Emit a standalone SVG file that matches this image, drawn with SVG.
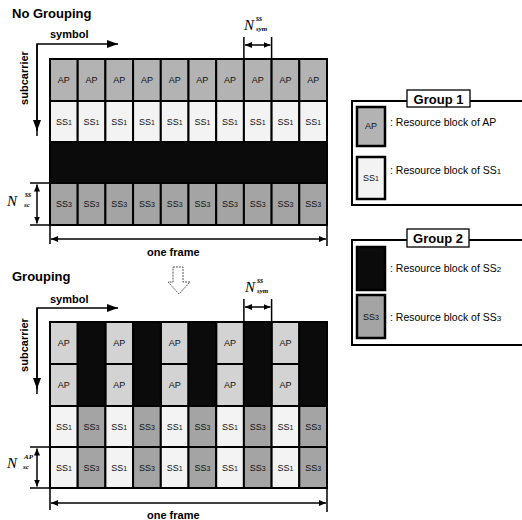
<svg xmlns="http://www.w3.org/2000/svg" width="522" height="520" viewBox="0 0 522 520">
<style>
.c{stroke:#000;stroke-width:2}
.ap1{fill:#b3b3b3}.ap2{fill:#d3d3d3}.s1{fill:#f3f3f3}.s2{fill:#0b0b0b}.s3{fill:#a4a4a4}
.t{font-family:"Liberation Sans",Arial,sans-serif;font-size:9px;text-anchor:middle;fill:#111}
.b{font-family:"Liberation Sans",Arial,sans-serif;font-weight:bold;fill:#000}
.lg{font-family:"Liberation Sans",Arial,sans-serif;font-size:10.5px;fill:#000}
.n{font-family:"Liberation Serif","Times New Roman",serif;font-style:italic;fill:#000}
.ln{stroke:#000;stroke-width:1.5;fill:none}
</style>
<defs>
<marker id="big" markerUnits="userSpaceOnUse" markerWidth="12" markerHeight="10" refX="11" refY="5" orient="auto"><path d="M0,1 L11,5 L0,9 Z" fill="#000"/></marker>
<marker id="sm" markerUnits="userSpaceOnUse" markerWidth="8" markerHeight="6" refX="7" refY="3" orient="auto-start-reverse"><path d="M0,0 L7,3 L0,6 Z" fill="#000"/></marker>
</defs>

<text class="b" x="12" y="18" font-size="13">No Grouping</text>
<text class="b" x="12" y="281" font-size="13">Grouping</text>

<g id="grid-nogrouping">
<g class="c">
<rect class="ap1" x="50" y="59" width="27.7" height="42"/><rect class="ap1" x="77.7" y="59" width="27.7" height="42"/><rect class="ap1" x="105.4" y="59" width="27.7" height="42"/><rect class="ap1" x="133.1" y="59" width="27.7" height="42"/><rect class="ap1" x="160.8" y="59" width="27.7" height="42"/><rect class="ap1" x="188.5" y="59" width="27.7" height="42"/><rect class="ap1" x="216.2" y="59" width="27.7" height="42"/><rect class="ap1" x="243.9" y="59" width="27.7" height="42"/><rect class="ap1" x="271.6" y="59" width="27.7" height="42"/><rect class="ap1" x="299.3" y="59" width="27.7" height="42"/>
<rect class="s1" x="50" y="101" width="27.7" height="41"/><rect class="s1" x="77.7" y="101" width="27.7" height="41"/><rect class="s1" x="105.4" y="101" width="27.7" height="41"/><rect class="s1" x="133.1" y="101" width="27.7" height="41"/><rect class="s1" x="160.8" y="101" width="27.7" height="41"/><rect class="s1" x="188.5" y="101" width="27.7" height="41"/><rect class="s1" x="216.2" y="101" width="27.7" height="41"/><rect class="s1" x="243.9" y="101" width="27.7" height="41"/><rect class="s1" x="271.6" y="101" width="27.7" height="41"/><rect class="s1" x="299.3" y="101" width="27.7" height="41"/>
<rect class="s2" x="50" y="142" width="277" height="41"/>
<rect class="s3" x="50" y="183" width="27.7" height="42"/><rect class="s3" x="77.7" y="183" width="27.7" height="42"/><rect class="s3" x="105.4" y="183" width="27.7" height="42"/><rect class="s3" x="133.1" y="183" width="27.7" height="42"/><rect class="s3" x="160.8" y="183" width="27.7" height="42"/><rect class="s3" x="188.5" y="183" width="27.7" height="42"/><rect class="s3" x="216.2" y="183" width="27.7" height="42"/><rect class="s3" x="243.9" y="183" width="27.7" height="42"/><rect class="s3" x="271.6" y="183" width="27.7" height="42"/><rect class="s3" x="299.3" y="183" width="27.7" height="42"/>
</g>
<g class="t">
<text x="63.85" y="83">AP</text><text x="91.55" y="83">AP</text><text x="119.25" y="83">AP</text><text x="146.95" y="83">AP</text><text x="174.65" y="83">AP</text><text x="202.35" y="83">AP</text><text x="230.05" y="83">AP</text><text x="257.75" y="83">AP</text><text x="285.45" y="83">AP</text><text x="313.15" y="83">AP</text>
<text x="63.85" y="125">SS<tspan font-size="7">1</tspan></text><text x="91.55" y="125">SS<tspan font-size="7">1</tspan></text><text x="119.25" y="125">SS<tspan font-size="7">1</tspan></text><text x="146.95" y="125">SS<tspan font-size="7">1</tspan></text><text x="174.65" y="125">SS<tspan font-size="7">1</tspan></text><text x="202.35" y="125">SS<tspan font-size="7">1</tspan></text><text x="230.05" y="125">SS<tspan font-size="7">1</tspan></text><text x="257.75" y="125">SS<tspan font-size="7">1</tspan></text><text x="285.45" y="125">SS<tspan font-size="7">1</tspan></text><text x="313.15" y="125">SS<tspan font-size="7">1</tspan></text>
<text x="63.85" y="207">SS<tspan font-size="7">3</tspan></text><text x="91.55" y="207">SS<tspan font-size="7">3</tspan></text><text x="119.25" y="207">SS<tspan font-size="7">3</tspan></text><text x="146.95" y="207">SS<tspan font-size="7">3</tspan></text><text x="174.65" y="207">SS<tspan font-size="7">3</tspan></text><text x="202.35" y="207">SS<tspan font-size="7">3</tspan></text><text x="230.05" y="207">SS<tspan font-size="7">3</tspan></text><text x="257.75" y="207">SS<tspan font-size="7">3</tspan></text><text x="285.45" y="207">SS<tspan font-size="7">3</tspan></text><text x="313.15" y="207">SS<tspan font-size="7">3</tspan></text>
</g>
</g>

<g id="grid-grouping">
<g class="c">
<rect class="ap2" x="50" y="322" width="27.7" height="42"/><rect class="ap2" x="50" y="364" width="27.7" height="42"/>
<rect class="ap2" x="105.4" y="322" width="27.7" height="42"/><rect class="ap2" x="105.4" y="364" width="27.7" height="42"/>
<rect class="ap2" x="160.8" y="322" width="27.7" height="42"/><rect class="ap2" x="160.8" y="364" width="27.7" height="42"/>
<rect class="ap2" x="216.2" y="322" width="27.7" height="42"/><rect class="ap2" x="216.2" y="364" width="27.7" height="42"/>
<rect class="ap2" x="271.6" y="322" width="27.7" height="42"/><rect class="ap2" x="271.6" y="364" width="27.7" height="42"/>
<rect class="s2" x="77.7" y="322" width="27.7" height="84"/><rect class="s2" x="133.1" y="322" width="27.7" height="84"/><rect class="s2" x="188.5" y="322" width="27.7" height="84"/><rect class="s2" x="243.9" y="322" width="27.7" height="84"/><rect class="s2" x="299.3" y="322" width="27.7" height="84"/>
<rect class="s1" x="50" y="406" width="27.7" height="41"/><rect class="s3" x="77.7" y="406" width="27.7" height="41"/><rect class="s1" x="105.4" y="406" width="27.7" height="41"/><rect class="s3" x="133.1" y="406" width="27.7" height="41"/><rect class="s1" x="160.8" y="406" width="27.7" height="41"/><rect class="s3" x="188.5" y="406" width="27.7" height="41"/><rect class="s1" x="216.2" y="406" width="27.7" height="41"/><rect class="s3" x="243.9" y="406" width="27.7" height="41"/><rect class="s1" x="271.6" y="406" width="27.7" height="41"/><rect class="s3" x="299.3" y="406" width="27.7" height="41"/>
<rect class="s1" x="50" y="447" width="27.7" height="41"/><rect class="s3" x="77.7" y="447" width="27.7" height="41"/><rect class="s1" x="105.4" y="447" width="27.7" height="41"/><rect class="s3" x="133.1" y="447" width="27.7" height="41"/><rect class="s1" x="160.8" y="447" width="27.7" height="41"/><rect class="s3" x="188.5" y="447" width="27.7" height="41"/><rect class="s1" x="216.2" y="447" width="27.7" height="41"/><rect class="s3" x="243.9" y="447" width="27.7" height="41"/><rect class="s1" x="271.6" y="447" width="27.7" height="41"/><rect class="s3" x="299.3" y="447" width="27.7" height="41"/>
</g>
<g class="t">
<text x="63.85" y="346">AP</text><text x="119.25" y="346">AP</text><text x="174.65" y="346">AP</text><text x="230.05" y="346">AP</text><text x="285.45" y="346">AP</text>
<text x="63.85" y="388">AP</text><text x="119.25" y="388">AP</text><text x="174.65" y="388">AP</text><text x="230.05" y="388">AP</text><text x="285.45" y="388">AP</text>
<text x="63.85" y="430">SS<tspan font-size="7">1</tspan></text><text x="91.55" y="430">SS<tspan font-size="7">3</tspan></text><text x="119.25" y="430">SS<tspan font-size="7">1</tspan></text><text x="146.95" y="430">SS<tspan font-size="7">3</tspan></text><text x="174.65" y="430">SS<tspan font-size="7">1</tspan></text><text x="202.35" y="430">SS<tspan font-size="7">3</tspan></text><text x="230.05" y="430">SS<tspan font-size="7">1</tspan></text><text x="257.75" y="430">SS<tspan font-size="7">3</tspan></text><text x="285.45" y="430">SS<tspan font-size="7">1</tspan></text><text x="313.15" y="430">SS<tspan font-size="7">3</tspan></text>
<text x="63.85" y="471">SS<tspan font-size="7">1</tspan></text><text x="91.55" y="471">SS<tspan font-size="7">3</tspan></text><text x="119.25" y="471">SS<tspan font-size="7">1</tspan></text><text x="146.95" y="471">SS<tspan font-size="7">3</tspan></text><text x="174.65" y="471">SS<tspan font-size="7">1</tspan></text><text x="202.35" y="471">SS<tspan font-size="7">3</tspan></text><text x="230.05" y="471">SS<tspan font-size="7">1</tspan></text><text x="257.75" y="471">SS<tspan font-size="7">3</tspan></text><text x="285.45" y="471">SS<tspan font-size="7">1</tspan></text><text x="313.15" y="471">SS<tspan font-size="7">3</tspan></text>
</g>
</g>

<g id="labels">
<text class="b" x="50" y="38" font-size="11">symbol</text>
<text class="b" x="28" y="78" font-size="11" text-anchor="middle" transform="rotate(-90 28 78)">subcarrier</text>
<text class="b" x="147" y="256" font-size="11">one frame</text>
<text class="b" x="50" y="303" font-size="11">symbol</text>
<text class="b" x="28" y="345" font-size="11" text-anchor="middle" transform="rotate(-90 28 345)">subcarrier</text>
<text class="b" x="147" y="519" font-size="11">one frame</text>
<text class="n" x="244" y="30" font-size="15">N</text><text class="n" x="256" y="21" font-size="8" font-weight="bold">ss</text><text class="n" x="256" y="31" font-size="7" font-weight="bold">sym</text>
<text class="n" x="245" y="292" font-size="15">N</text><text class="n" x="257" y="283" font-size="8" font-weight="bold">ss</text><text class="n" x="257" y="293" font-size="7" font-weight="bold">sym</text>
<text class="n" x="7" y="206" font-size="15">N</text><text class="n" x="25" y="197" font-size="8" font-weight="bold">ss</text><text class="n" x="24" y="207" font-size="7" font-weight="bold">sc</text>
<text class="n" x="7" y="468" font-size="15">N</text><text class="n" x="24" y="459" font-size="7" font-weight="bold">AP</text><text class="n" x="23" y="469" font-size="7" font-weight="bold">sc</text>
</g>

<g id="connectors">
<path class="ln" d="M37,136 V44 H118" marker-end="url(#big)" stroke-width="2"/>
<path class="ln" d="M37,44 V131" marker-end="url(#big)" stroke-width="2"/>
<path class="ln" d="M37,394 V308 H118" marker-end="url(#big)" stroke-width="2"/>
<path class="ln" d="M37,308 V389" marker-end="url(#big)" stroke-width="2"/>
<path class="ln" d="M243.9,37 V59 M271.6,37 V59" stroke-width="2"/>
<path class="ln" d="M245,45 H270.5" marker-start="url(#sm)" marker-end="url(#sm)"/>
<path class="ln" d="M243.9,299 V322 M271.6,299 V322" stroke-width="2"/>
<path class="ln" d="M245,307 H270.5" marker-start="url(#sm)" marker-end="url(#sm)"/>
<path class="ln" d="M30,183 H50 M30,225 H50" stroke-width="2"/>
<path class="ln" d="M37,184.5 V223.5" marker-start="url(#sm)" marker-end="url(#sm)"/>
<path class="ln" d="M30,447 H50 M30,488 H50" stroke-width="2"/>
<path class="ln" d="M37,448.5 V486.5" marker-start="url(#sm)" marker-end="url(#sm)"/>
<path class="ln" d="M50,225 V244 M327,225 V246" stroke-width="2"/>
<path class="ln" d="M51,239 H326" marker-start="url(#sm)" marker-end="url(#sm)"/>
<path class="ln" d="M50,488 V510 M327,488 V512" stroke-width="2"/>
<path class="ln" d="M51,503 H326" marker-start="url(#sm)" marker-end="url(#sm)"/>
<path d="M173,267 H183 V282 H190 L179,294 L168,282 H173 Z" fill="#fff" stroke="#555" stroke-width="1" stroke-dasharray="2,1"/>
</g>

<g id="legend-group1">
<rect x="352" y="101" width="200" height="104" fill="none" stroke="#000" stroke-width="2"/>
<rect x="407" y="90" width="63" height="17" fill="#fff" stroke="#000" stroke-width="1.3"/>
<text class="b" x="438.5" y="103.5" font-size="13" text-anchor="middle">Group 1</text>
<g id="legend-ap"><rect class="ap1" x="357" y="107" width="28" height="39" stroke="#000" stroke-width="2.5"/><text class="t" x="371" y="129">AP</text><text class="lg" x="390" y="126">: Resource block of AP</text></g>
<g id="legend-ss1"><rect class="s1" x="357" y="157" width="28" height="42" stroke="#000" stroke-width="2.5"/><text class="t" x="371" y="181">SS<tspan font-size="7">1</tspan></text><text class="lg" x="390" y="174">: Resource block of SS<tspan font-size="8">1</tspan></text></g>
</g>

<g id="legend-group2">
<rect x="352" y="240" width="200" height="105" fill="none" stroke="#000" stroke-width="2"/>
<rect x="407" y="229" width="62" height="18" fill="#fff" stroke="#000" stroke-width="1.3"/>
<text class="b" x="438" y="243" font-size="13" text-anchor="middle">Group 2</text>
<g id="legend-ss2"><rect class="s2" x="357" y="247" width="28" height="43" stroke="#000" stroke-width="2.5"/><text class="lg" x="390" y="272">: Resource block of SS<tspan font-size="8">2</tspan></text></g>
<g id="legend-ss3"><rect class="s3" x="357" y="295" width="28" height="43" stroke="#000" stroke-width="2.5"/><text class="t" x="371" y="320" fill="#222">SS<tspan font-size="7">3</tspan></text><text class="lg" x="390" y="321">: Resource block of SS<tspan font-size="8">3</tspan></text></g>
</g>
</svg>
